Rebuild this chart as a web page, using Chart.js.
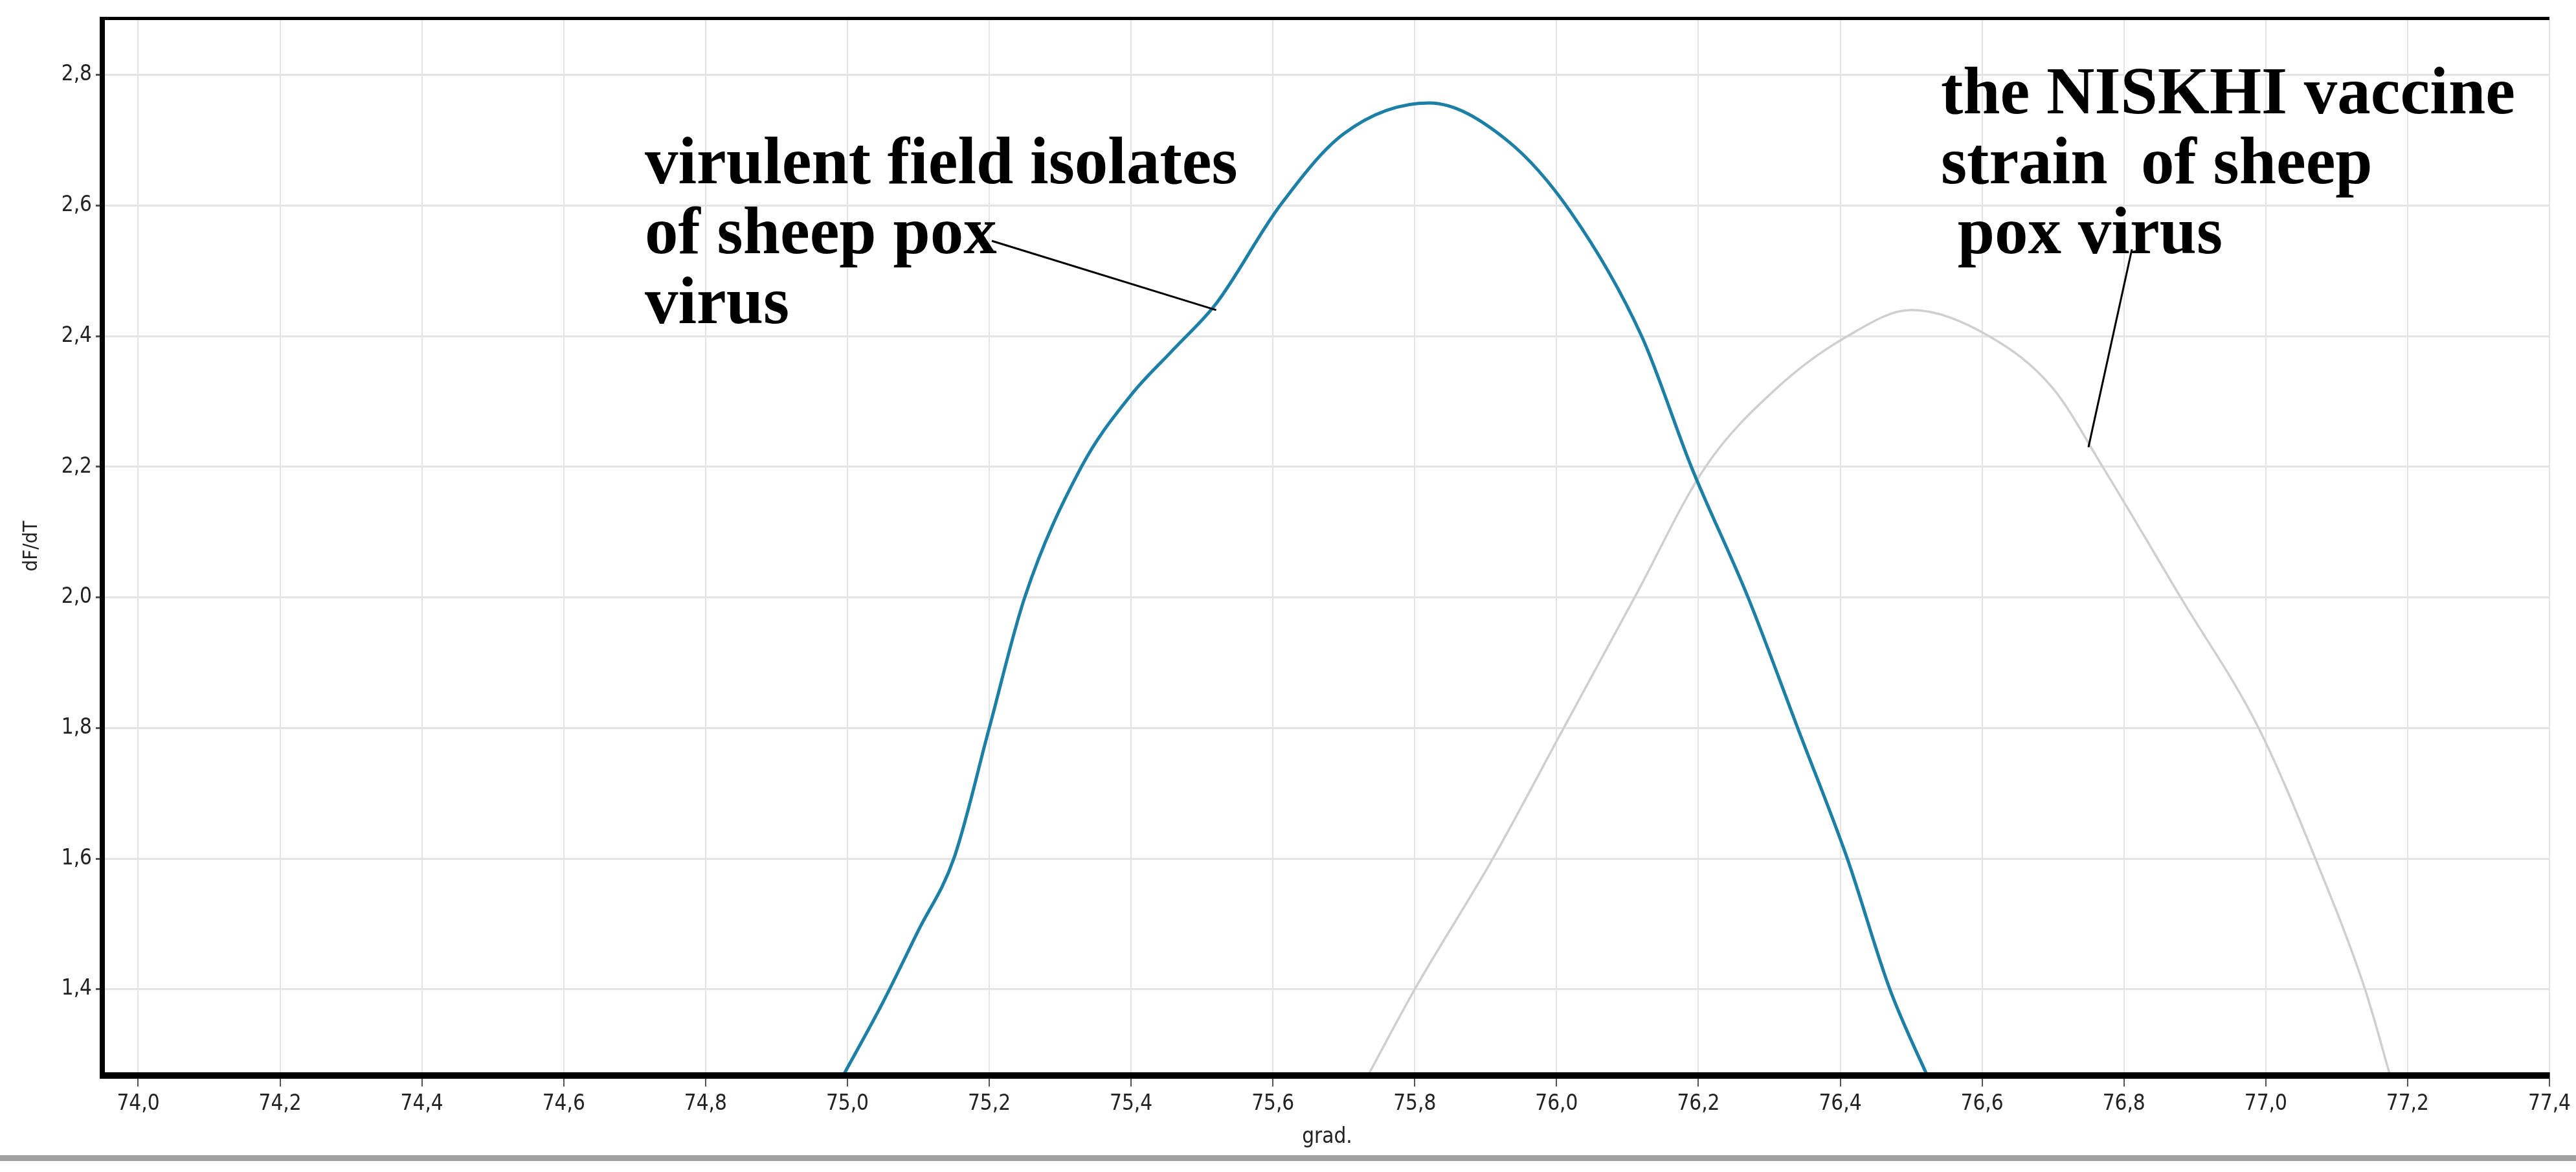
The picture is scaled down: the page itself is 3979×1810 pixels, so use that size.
<!DOCTYPE html>
<html>
<head>
<meta charset="utf-8">
<script src="https://cdn.jsdelivr.net/npm/chart.js@4.4.1/dist/chart.umd.min.js"></script>
<style>
  html, body { margin: 0; padding: 0; background: #fff; }
  #wrap { width: 3979px; height: 1810px; }
</style>
</head>
<body>
<div id="wrap"><canvas id="chart" width="3979" height="1810"></canvas></div>
<script>
// Melting curve readings (temperature, dF/dT)
const fieldTemp = [74.99, 75.05, 75.10, 75.15, 75.20, 75.25, 75.33, 75.40, 75.46, 75.52, 75.61, 75.70, 75.82, 75.93, 76.02, 76.12, 76.19, 76.27, 76.34, 76.41, 76.47, 76.53];
const fieldDfdt = [1.26, 1.38, 1.49, 1.60, 1.80, 2.00, 2.20, 2.31, 2.38, 2.45, 2.60, 2.71, 2.757, 2.70, 2.59, 2.40, 2.20, 2.00, 1.80, 1.60, 1.40, 1.25];

const vaccineTemp = [75.73, 75.80, 75.91, 76.01, 76.11, 76.21, 76.31, 76.41, 76.50, 76.61, 76.70, 76.77, 76.88, 76.99, 77.07, 77.14, 77.18];
const vaccineDfdt = [1.26, 1.40, 1.60, 1.80, 2.00, 2.20, 2.32, 2.40, 2.44, 2.40, 2.32, 2.20, 2.00, 1.80, 1.60, 1.40, 1.25];

const xTicks = [74.0, 74.2, 74.4, 74.6, 74.8, 75.0, 75.2, 75.4, 75.6, 75.8, 76.0, 76.2, 76.4, 76.6, 76.8, 77.0, 77.2, 77.4];
const yTicks = [1.4, 1.6, 1.8, 2.0, 2.2, 2.4, 2.6, 2.8];

const fieldLabel = ['virulent field isolates', 'of sheep pox', 'virus'];
const vaccineLabel = ['the NISKHI vaccine', 'strain  of sheep', ' pox virus'];

function toPoints(xs, ys) {
    return xs.map((x, i) => ({ x: x, y: ys[i] }));
}

const comma = (v) => v.toFixed(1).replace('.', ',');

// frame, notes and the grey rule at the bottom
const decorations = {
    id: 'decorations',
    afterDraw(chart) {
        const ctx = chart.ctx;
        const a = chart.chartArea;
        const xs = chart.scales.x;
        const ys = chart.scales.y;
        ctx.save();
        ctx.fillStyle = '#000';
        ctx.fillRect(a.left - 8, a.top - 5, 8, a.bottom - a.top + 15);
        ctx.fillRect(a.left - 8, a.bottom, a.right - a.left + 8, 10);
        ctx.fillRect(a.left - 8, a.top - 5, a.right - a.left + 8, 5);
        ctx.fillStyle = '#a0a0a0';
        ctx.fillRect(0, 1784, 3979, 9);

        ctx.fillStyle = '#000';
        ctx.font = 'bold 103px "Liberation Serif"';
        ctx.textBaseline = 'alphabetic';
        fieldLabel.forEach((t, i) => ctx.fillText(t, 996, 283 + i * 108));
        vaccineLabel.forEach((t, i) => ctx.fillText(t, 2998, 175 + i * 108));

        ctx.strokeStyle = '#000';
        ctx.lineWidth = 3;
        ctx.beginPath();
        ctx.moveTo(1532, 372);
        ctx.lineTo(xs.getPixelForValue(75.52), ys.getPixelForValue(2.44));
        ctx.moveTo(3293, 385);
        ctx.lineTo(xs.getPixelForValue(76.75), ys.getPixelForValue(2.23));
        ctx.stroke();
        ctx.restore();
    }
};

new Chart(document.getElementById('chart'), {
    type: 'scatter',
    data: {
        datasets: [
            {
                data: toPoints(fieldTemp, fieldDfdt),
                showLine: true,
                borderColor: '#1c7fa6',
                borderWidth: 5,
                cubicInterpolationMode: 'monotone',
                pointRadius: 0,
            },
            {
                data: toPoints(vaccineTemp, vaccineDfdt),
                showLine: true,
                borderColor: '#cfcfcf',
                borderWidth: 3.5,
                cubicInterpolationMode: 'monotone',
                pointRadius: 0,
            },
        ],
    },
    options: {
        responsive: false,
        animation: false,
        devicePixelRatio: 1,
        layout: { padding: { top: 31, right: 31, left: 0, bottom: 0 } },
        plugins: { legend: { display: false }, tooltip: { enabled: false } },
        scales: {
            x: {
                type: 'linear',
                min: 73.953,
                max: 77.4,
                afterBuildTicks: (axis) => { axis.ticks = xTicks.map(v => ({ value: v })); },
                afterFit: (axis) => { axis.height = 154; },
                grid: { color: '#e4e4e4', lineWidth: 2, tickLength: 22, tickColor: '#555' },
                border: { display: false },
                ticks: {
                    callback: (v) => comma(v),
                    font: { family: 'DejaVu Sans Condensed', size: 33 },
                    color: '#222',
                    maxRotation: 0,
                    autoSkip: false,
                    padding: 8,
                },
                title: {
                    display: true,
                    text: 'grad.',
                    font: { family: 'DejaVu Sans Condensed', size: 33 },
                    color: '#222',
                    padding: { top: 0, bottom: 34 },
                },
            },
            y: {
                type: 'linear',
                min: 1.273,
                max: 2.884,
                afterBuildTicks: (axis) => { axis.ticks = yTicks.map(v => ({ value: v })); },
                afterFit: (axis) => { axis.width = 162; },
                grid: { color: '#e4e4e4', lineWidth: 3, tickLength: 14, tickColor: '#555' },
                border: { display: false },
                ticks: {
                    callback: (v) => comma(v),
                    font: { family: 'DejaVu Sans Condensed', size: 33 },
                    color: '#222',
                    padding: 6,
                },
                title: {
                    display: true,
                    text: 'dF/dT',
                    font: { family: 'DejaVu Sans Condensed', size: 31 },
                    color: '#222',
                    padding: { top: 30, bottom: 0 },
                },
            },
        },
    },
    plugins: [decorations],
});
</script>
</body>
</html>
